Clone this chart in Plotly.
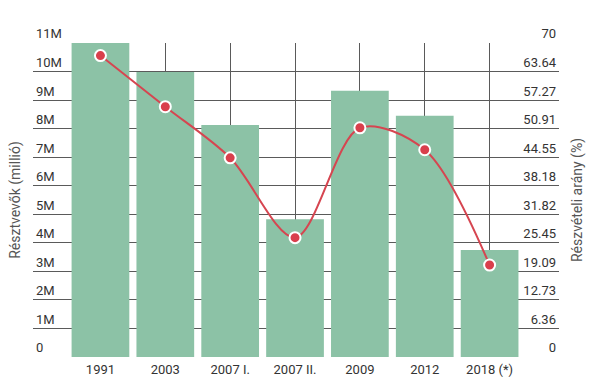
import plotly.graph_objects as go

categories = ["1991", "2003", "2007 I.", "2007 II.", "2009", "2012", "2018 (*)"]
participants = [11.0e6, 9.98e6, 8.13e6, 4.83e6, 9.33e6, 8.45e6, 3.75e6]
participation_rate = [67.2, 55.8, 44.4, 26.6, 51.1, 46.2, 20.5]

left_tickvals = [i * 1e6 for i in range(12)]
left_ticktext = ["0"] + [f"{i}M" for i in range(1, 12)]
right_tickvals = [i * 70 / 11 for i in range(12)]
right_ticktext = ["0", "6.36", "12.73", "19.09", "25.45", "31.82", "38.18",
                  "44.55", "50.91", "57.27", "63.64", "70"]

fig = go.Figure()
fig.add_trace(go.Bar(
    x=categories, y=participants, marker=dict(color="#8cc2a6", line=dict(width=0)),
    name="Résztvevők", yaxis="y", hoverinfo="x+y"))
fig.add_trace(go.Scatter(
    x=categories, y=participation_rate, yaxis="y2", mode="lines+markers",
    line=dict(color="#d64550", width=2, shape="spline", smoothing=0.9),
    marker=dict(size=11, color="#d93f4c", line=dict(color="white", width=2)),
    name="Részvételi arány"))

grid = "#5a5a5a"
fig.update_layout(
    width=591, height=382,
    margin=dict(l=33, r=32, t=43, b=25),
    paper_bgcolor="white", plot_bgcolor="white",
    showlegend=False, bargap=0.11,
    font=dict(family="Roboto", size=13, color="#333"),
    xaxis=dict(type="category", range=[-1.04, 7.07], showgrid=True, gridcolor=grid,
               gridwidth=1, ticks="", tickfont=dict(size=13, color="#333"),
               ticklabelstandoff=3,
               showline=False, zeroline=False, automargin=False),
    yaxis=dict(range=[0, 11e6], tickmode="array", tickvals=left_tickvals,
               ticktext=left_ticktext,
               ticklabelposition="inside top", ticklabeloverflow="allow",
               showgrid=True, gridcolor=grid, automargin=False,
               gridwidth=1, zeroline=False, ticks="", tickfont=dict(size=13, color="#333"),
               title=dict(text="Résztvevők (millió)", standoff=12,
                          font=dict(size=14, color="#555"))),
    yaxis2=dict(range=[0, 70], tickmode="array", tickvals=right_tickvals,
                ticktext=right_ticktext,
                overlaying="y", side="right", ticklabelposition="inside top",
                ticklabeloverflow="allow", automargin=False,
                showgrid=False, zeroline=False, ticks="",
                tickfont=dict(size=13, color="#333"),
                title=dict(text="Részvételi arány (%)", standoff=16,
                           font=dict(size=14, color="#555"))),
)

fig.write_html("out.html", config={"displayModeBar": False},
               post_script="document.body.style.margin='0';")
